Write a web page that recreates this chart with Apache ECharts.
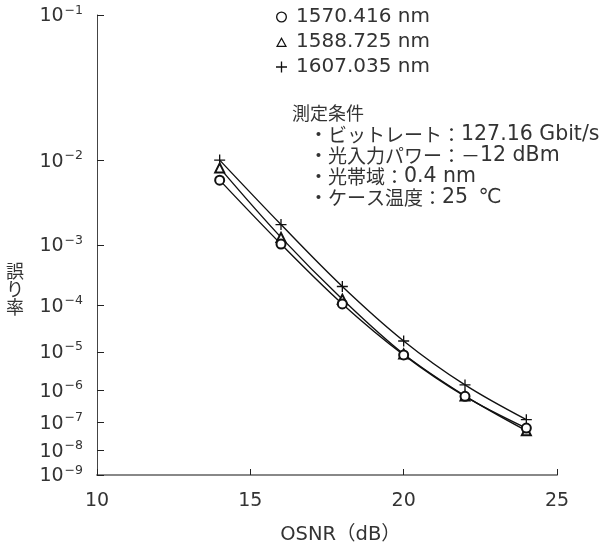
<!DOCTYPE html>
<html>
<head>
<meta charset="utf-8">
<script src="https://cdn.jsdelivr.net/npm/echarts@6/dist/echarts.min.js"></script>
<style>
html,body{margin:0;padding:0;background:#fff;}
#chart{width:609px;height:553px;}
</style>
</head>
<body>
<div id="chart"></div>
<script>
// ---- data ----
const osnr = [14, 16, 18, 20, 22, 24];
const seriesNames = ['1570.416 nm', '1588.725 nm', '1607.035 nm'];
const ber1570 = [6.3e-3, 1.03e-3, 1.06e-4, 8.5e-6, 6.6e-7, 6.4e-8];
const ber1588 = [8.4e-3, 1.28e-3, 1.3e-4, 8.9e-6, 6.8e-7, 5.2e-8];
const ber1607 = [1.0e-2, 1.9e-3, 2.2e-4, 1.8e-5, 1.4e-6, 1.23e-7];
const yTickExponents = [1, 2, 3, 4, 5, 6, 7, 8, 9];
const xMin = 10, xMax = 25, xStep = 5;
const noteTitle = '測定条件';
const noteLines = [
  ['・ビットレート：', '127.16 Gbit/s', ''],
  ['・光入力パワー：－', '12 dBm', ''],
  ['・光帯域：', '0.4 nm', ''],
  ['・ケース温度：', '25', ' ℃']
];

// BER scale: y = log10(-log10(BER))
const berToY = b => Math.log10(-Math.log10(b));
const expToY = n => Math.log10(n);
const CJK = '"Noto Sans CJK JP", sans-serif';
const LAT = '"DejaVu Sans", "Noto Sans CJK JP", sans-serif';
const INK = '#333';
const plusPath = 'path://M8.8,0H11.2V8.8H20V11.2H11.2V20H8.8V11.2H0V8.8H8.8Z';
const ringPath = 'path://M10,0A10,10,0,1,1,10,20A10,10,0,1,1,10,0ZM10,2.4A7.6,7.6,0,1,0,10,17.6A7.6,7.6,0,1,0,10,2.4Z';
const triPath = 'path://M10,0L20,18L0,18ZM10,4.53L3.74,15.8L16.26,15.8Z';

const berSets = [ber1570, ber1588, ber1607];
const symbols = ['emptyCircle', 'emptyTriangle', plusPath];
const symbolSizes = [9, 9, 11];
const legendIcons = [ringPath, triPath, plusPath];

const chart = echarts.init(document.getElementById('chart'), null, {renderer: 'canvas'});
const series = berSets.map((arr, i) => ({
  name: seriesNames[i],
  type: 'line',
  smooth: 0.35,
  data: osnr.map((x, k) => [x, berToY(arr[k])]),
  symbol: symbols[i],
  symbolSize: symbolSizes[i],
  showAllSymbol: true,
  lineStyle: {color: '#111', width: 1.4},
  itemStyle: {color: '#111', borderColor: '#111', borderWidth: i === 2 ? 0 : 1.3},
  z: 3 - i
}));

const noteText = noteLines.map(p => '{c|' + p[0] + '}{l|' + p[1] + '}' + (p[2] ? '{d|' + p[2] + '}' : '')).join('\n');

const option = {
  backgroundColor: '#fff',
  animation: false,
  textStyle: {fontFamily: LAT},
  grid: {left: 97, top: 15, width: 460, height: 460},
  legend: {
    orient: 'vertical',
    left: 271,
    top: 2,
    itemWidth: 11,
    itemHeight: 11,
    itemGap: 5,
    data: seriesNames.map((n, i) => ({name: n, icon: legendIcons[i], itemStyle: {color: '#111', borderWidth: 0}})),
    textStyle: {fontFamily: LAT, fontSize: 20, color: INK, lineHeight: 20, padding: [0, 0, 0, 4]},
    selectedMode: false
  },
  xAxis: {
    type: 'value',
    position: 'bottom',
    min: xMin, max: xMax, interval: xStep,
    name: 'OSNR（dB）',
    nameLocation: 'middle',
    nameGap: 50,
    nameTextStyle: {fontFamily: LAT, fontSize: 19.5, color: INK, padding: [0, 0, 0, 27]},
    axisLine: {onZero: false, lineStyle: {color: '#888', width: 2}},
    axisTick: {inside: true, length: 6, lineStyle: {color: '#222', width: 1}},
    axisLabel: {fontFamily: LAT, fontSize: 19, color: INK, margin: 17},
    splitLine: {show: false}
  },
  yAxis: {
    type: 'value',
    inverse: true,
    min: 0,
    max: expToY(9),
    axisLine: {show: true, onZero: false, lineStyle: {color: '#444', width: 1}},
    axisTick: {show: true, inside: true, length: 7, customValues: yTickExponents.map(expToY), lineStyle: {color: '#222', width: 1}},
    axisLabel: {
      customValues: yTickExponents.map(expToY),
      margin: 14,
      formatter: v => '{b|10}{s|−' + Math.round(Math.pow(10, v)) + '}',
      rich: {
        b: {fontFamily: LAT, fontSize: 19, color: INK, verticalAlign: 'bottom', lineHeight: 22},
        s: {fontFamily: LAT, fontSize: 12.5, color: INK, verticalAlign: 'top', lineHeight: 22, padding: [0, 0, 0, 1]}
      }
    },
    splitLine: {show: false}
  },
  graphic: [
    {type: 'text', left: 6, top: 262, style: {text: '誤\nり\n率', font: '18px ' + CJK, fill: INK, lineHeight: 18, align: 'center'}},
    {type: 'text', left: 292, top: 104, style: {text: noteTitle, font: '18px ' + CJK, fill: INK}},
    {type: 'text', left: 309, top: 124, style: {
      text: noteText,
      lineHeight: 21,
      rich: {
        c: {fontFamily: CJK, fontSize: 19, fill: INK, lineHeight: 21},
        l: {fontFamily: LAT, fontSize: 20.5, fill: INK, lineHeight: 21},
        d: {fontFamily: LAT, fontSize: 20.5, fill: INK, lineHeight: 21, padding: [0, 0, 0, 4]}
      }
    }}
  ],
  series: series
};
chart.setOption(option);
</script>
</body>
</html>
